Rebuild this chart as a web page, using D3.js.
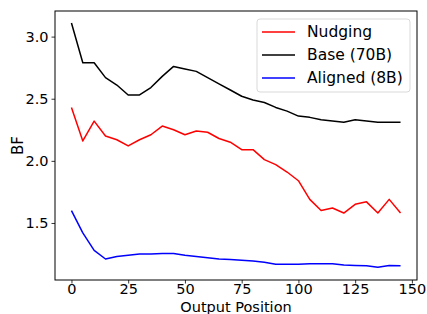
<!DOCTYPE html>
<html>
<head>
<meta charset="utf-8">
<script src="https://cdn.jsdelivr.net/npm/d3@7"></script>
<style>
  body { margin: 0; background: #fff; }
  text { font-family: "DejaVu Sans", sans-serif; }
</style>
</head>
<body>
<script>
// output positions
const positions = [0, 5, 10, 15, 20, 25, 30, 35, 40, 45, 50, 55, 60, 65, 70,
    75, 80, 85, 90, 95, 100, 105, 110, 115, 120, 125, 130, 135, 140, 145];

const nudging = [2.43, 2.16, 2.32, 2.20, 2.17, 2.12, 2.17, 2.21, 2.28, 2.25,
    2.21, 2.24, 2.23, 2.18, 2.15, 2.09, 2.09, 2.01, 1.97, 1.91,
    1.84, 1.69, 1.60, 1.62, 1.58, 1.65, 1.67, 1.58, 1.69, 1.58];

const base = [3.11, 2.79, 2.79, 2.67, 2.61, 2.53, 2.53, 2.59, 2.68, 2.76,
    2.74, 2.72, 2.67, 2.62, 2.57, 2.52, 2.49, 2.47, 2.43, 2.40,
    2.36, 2.35, 2.33, 2.32, 2.31, 2.33, 2.32, 2.31, 2.31, 2.31];

const aligned = [1.60, 1.42, 1.28, 1.21, 1.23, 1.24, 1.25, 1.25, 1.255, 1.255,
    1.24, 1.23, 1.22, 1.21, 1.205, 1.20, 1.193, 1.183, 1.167, 1.167,
    1.167, 1.172, 1.172, 1.172, 1.161, 1.158, 1.156, 1.143, 1.158, 1.156];

const seriesNames = ["Nudging", "Base (70B)", "Aligned (8B)"];
const seriesColors = ["#ff0000", "#000000", "#0000ff"];
const xTicks = [0, 25, 50, 75, 100, 125, 150];
const yTicks = [1.5, 2.0, 2.5, 3.0];

const width = 427, height = 314;
const margin = {top: 11, right: 10, bottom: 34, left: 55};

const svg = d3.select("body").append("svg")
    .attr("width", width)
    .attr("height", height);

const x = d3.scaleLinear()
    .domain([-7.25, 152.25])
    .range([margin.left, width - margin.right]);

const y = d3.scaleLinear()
    .domain([1.041, 3.206])
    .range([height - margin.bottom, margin.top]);

const line = d3.line()
    .x((d, i) => x(positions[i]))
    .y(d => y(d));

const allSeries = [nudging, base, aligned];

svg.append("g")
    .selectAll("path")
    .data(allSeries)
    .join("path")
    .attr("d", line)
    .attr("fill", "none")
    .attr("stroke", (d, i) => seriesColors[i])
    .attr("stroke-width", 1.5)
    .attr("stroke-linejoin", "round");

// axes
const xAxis = svg.append("g")
    .attr("transform", `translate(0,${height - margin.bottom})`)
    .call(d3.axisBottom(x).tickValues(xTicks).tickSize(3.5).tickPadding(0.5));

const yAxis = svg.append("g")
    .attr("transform", `translate(${margin.left},0)`)
    .call(d3.axisLeft(y).tickValues(yTicks).tickFormat(d3.format(".1f")).tickSize(3.5).tickPadding(3));

[xAxis, yAxis].forEach(a => {
    a.select(".domain").remove();
    a.selectAll("text").attr("font-size", 14.5).attr("fill", "#000")
        .attr("font-family", "DejaVu Sans, sans-serif");
    a.selectAll("line").attr("stroke", "#000").attr("stroke-width", 0.8);
});

// frame
svg.append("rect")
    .attr("x", margin.left)
    .attr("y", margin.top)
    .attr("width", width - margin.left - margin.right)
    .attr("height", height - margin.top - margin.bottom)
    .attr("fill", "none")
    .attr("stroke", "#000")
    .attr("stroke-width", 1);

svg.append("text")
    .attr("x", (margin.left + width - margin.right) / 2)
    .attr("y", 311.5)
    .attr("text-anchor", "middle")
    .attr("font-size", 14.5)
    .text("Output Position");

svg.append("text")
    .attr("transform", `translate(23,${(margin.top + height - margin.bottom) / 2}) rotate(-90)`)
    .attr("text-anchor", "middle")
    .attr("font-size", 15)
    .text("BF");

// legend
const legend = svg.append("g").attr("transform", "translate(257,19)");
legend.append("rect")
    .attr("width", 153)
    .attr("height", 73)
    .attr("rx", 3)
    .attr("fill", "#fff")
    .attr("fill-opacity", 0.8)
    .attr("stroke", "#d9d9d9")
    .attr("stroke-width", 1);

const items = legend.selectAll("g.item")
    .data(seriesNames)
    .join("g")
    .attr("transform", (d, i) => `translate(0,${13 + i * 23})`);

items.append("line")
    .attr("x1", 5).attr("x2", 38)
    .attr("stroke", (d, i) => seriesColors[i])
    .attr("stroke-width", 1.5);

items.append("text")
    .attr("x", 50)
    .attr("dy", "0.35em")
    .attr("font-size", 15.5)
    .text(d => d);
</script>
</body>
</html>
